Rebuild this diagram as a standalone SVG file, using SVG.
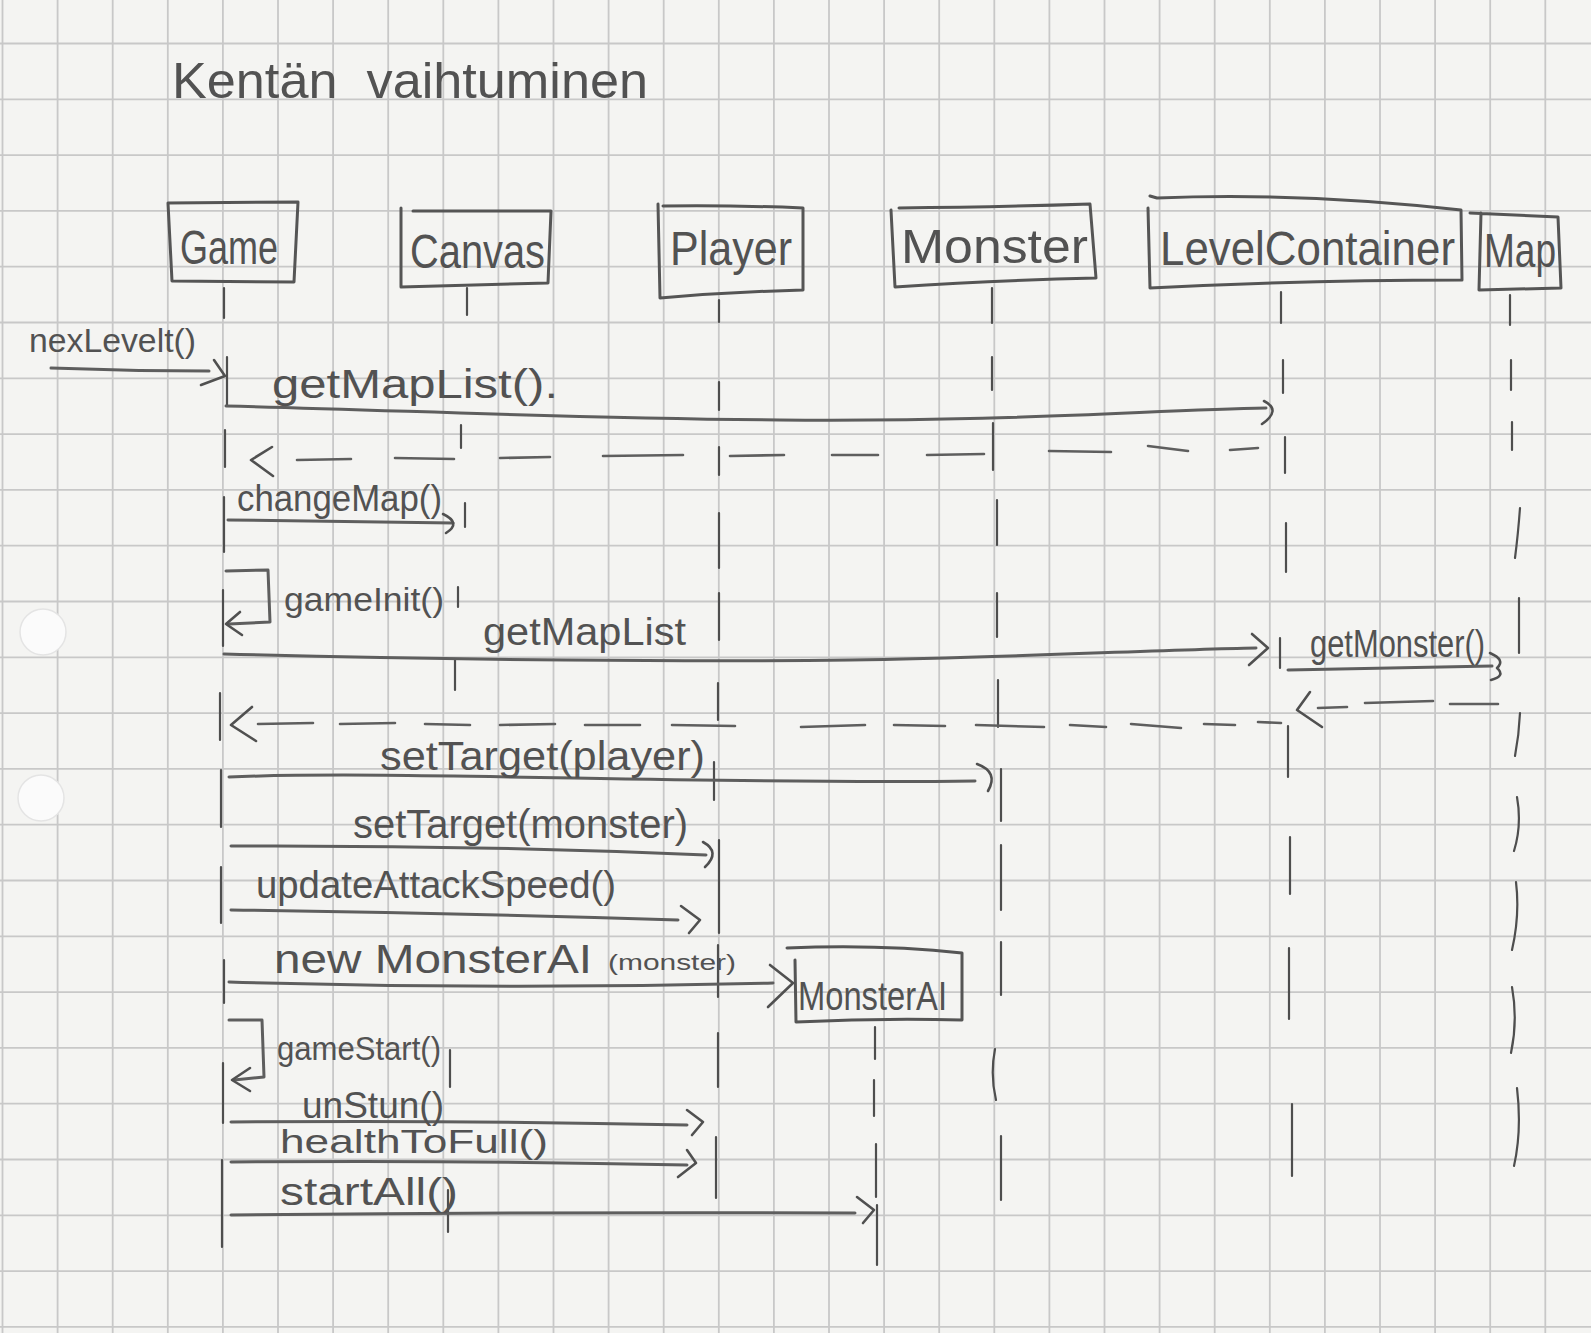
<svg xmlns="http://www.w3.org/2000/svg" width="1591" height="1333" viewBox="0 0 1591 1333">
  <style>
    .paper { fill: #f4f4f2; }
    .grid { stroke: #c8c8c8; stroke-width: 1.8; fill: none; }
    .hole { fill: #fbfbfb; stroke: #e4e4e4; stroke-width: 1.5; }
    .box { fill: none; stroke: #555; stroke-width: 3; stroke-linejoin: round; stroke-linecap: round; }
    .life { fill: none; stroke: #4e4e4e; stroke-width: 2.2; stroke-linecap: round; }
    .msg { fill: none; stroke: #5e5e5e; stroke-width: 3; stroke-linecap: round; stroke-linejoin: round; }
    .ret { fill: none; stroke: #5e5e5e; stroke-width: 2.6; stroke-linecap: round; }
    .head { fill: none; stroke: #505050; stroke-width: 2.6; stroke-linecap: round; stroke-linejoin: round; }
    .hand { font-family: "Liberation Sans", "DejaVu Sans", sans-serif; fill: #525252; }
  </style>

  <!-- squared paper -->
  <rect class="paper" x="0" y="0" width="1591" height="1333"/>
  <g id="grid" class="grid">
    <path d="M2.5 0V1333M57.6 0V1333M112.7 0V1333M167.8 0V1333M222.9 0V1333M278 0V1333M333.1 0V1333M388.2 0V1333M443.3 0V1333M498.4 0V1333M553.5 0V1333M608.6 0V1333M663.7 0V1333M718.8 0V1333M773.9 0V1333M829 0V1333M884.1 0V1333M939.2 0V1333M994.3 0V1333M1049.4 0V1333M1104.5 0V1333M1159.6 0V1333M1214.7 0V1333M1269.8 0V1333M1324.9 0V1333M1380 0V1333M1435.1 0V1333M1490.2 0V1333M1545.3 0V1333"/>
    <path d="M0 43.5H1591M0 99.3H1591M0 155.1H1591M0 210.9H1591M0 266.7H1591M0 322.5H1591M0 378.3H1591M0 434.1H1591M0 489.9H1591M0 545.7H1591M0 601.5H1591M0 657.3H1591M0 713.1H1591M0 768.9H1591M0 824.7H1591M0 880.5H1591M0 936.3H1591M0 992.1H1591M0 1047.9H1591M0 1103.7H1591M0 1159.5H1591M0 1215.3H1591M0 1271.1H1591M0 1326.9H1591"/>
  </g>
  <circle class="hole" cx="43" cy="632" r="23"/>
  <circle class="hole" cx="41" cy="798" r="23"/>

  <text class="hand" x="172" y="98" font-size="50" word-spacing="14" textLength="476" lengthAdjust="spacingAndGlyphs">Kentän vaihtuminen</text>

  <!-- participants: box + dashed lifeline -->
  <g id="game">
    <path class="box" d="M168 203 L298 202 L294 282 L172 281 Z"/>
    <text class="hand" x="180" y="264" font-size="48" textLength="98" lengthAdjust="spacingAndGlyphs">Game</text>
    <path class="life" d="M224 288V318M227 357V405M225 430V467M224 497V552M223 590V646M220 693V740M221 770V827M221 867V923M224 960V1003M223 1063V1123M222 1160V1247"/>
  </g>
  <g id="canvas">
    <path class="box" d="M401 208 L401 287 L548 283 L551 211 L413 211"/>
    <text class="hand" x="410" y="268" font-size="48" textLength="135" lengthAdjust="spacingAndGlyphs">Canvas</text>
    <path class="life" d="M467 288V315M461 425V448M465 503V527M458 587V607M455 660V690M450 1050V1087M448 1190V1232"/>
  </g>
  <g id="player">
    <path class="box" d="M658 204 L660 298 Q730 292 803 290 L803 208 Q730 205 663 206"/>
    <text class="hand" x="670" y="265" font-size="48" textLength="122" lengthAdjust="spacingAndGlyphs">Player</text>
    <path class="life" d="M719 300V322M719 382V410M719 447V475M719 513V568M719 593V640M718 683V720M714 762V800M719 840V933M718 945V997M718 1033V1087M716 1137V1198"/>
  </g>
  <g id="monster">
    <path class="box" d="M891 210 L895 287 Q1000 280 1096 278 L1090 204 Q1000 207 899 208"/>
    <text class="hand" x="901" y="263" font-size="48" textLength="187" lengthAdjust="spacingAndGlyphs">Monster</text>
    <path class="life" d="M992 288V323M992 357V390M993 423V470M997 500V545M997 593V637M998 680V727M1001 769V821M1001 845V910M1001 942V995M995 1049Q990 1075 996 1100M1001 1136V1200"/>
  </g>
  <g id="levelcontainer">
    <path class="box" d="M1148 208 L1150 288 Q1300 280 1462 280 L1461 210 Q1300 192 1157 198 L1150 196"/>
    <text class="hand" x="1160" y="265" font-size="48" textLength="295" lengthAdjust="spacingAndGlyphs">LevelContainer</text>
    <path class="life" d="M1281 292V323M1283 360V393M1285 437V473M1286 523V572M1280 638V668M1288 726V777M1290 837V894M1289 948V1019M1292 1104V1176"/>
  </g>
  <g id="map">
    <path class="box" d="M1470 213 L1558 217 L1561 288 L1479 290 L1481 213"/>
    <text class="hand" x="1484" y="267" font-size="48" textLength="72" lengthAdjust="spacingAndGlyphs">Map</text>
    <path class="life" d="M1510 295V325M1511 360V390M1512 422V450M1520 508Q1518 535 1515 558M1519 598V653M1520 713Q1519 735 1515 756M1517 797Q1522 825 1514 851M1516 882Q1520 915 1512 950M1512 987Q1518 1020 1511 1053M1517 1088Q1522 1130 1514 1166"/>
  </g>
  <g id="monsterai">
    <path class="box" d="M795 960 L796 1022 Q880 1018 962 1020 L962 953 Q880 944 787 948"/>
    <text class="hand" x="798" y="1010" font-size="40" textLength="149" lengthAdjust="spacingAndGlyphs">MonsterAI</text>
    <path class="life" d="M875 1027V1059M874 1080V1116M876 1144V1197M877 1205V1265"/>
  </g>

  <!-- messages -->
  <g id="connectors">
    <!-- nexLevelt() -->
    <path class="msg" d="M51 368 Q130 371 209 371"/>
    <path class="head" d="M214 360 L225 376 L201 385"/>
    <text class="hand" x="29" y="352" font-size="34" textLength="167" lengthAdjust="spacingAndGlyphs">nexLevelt()</text>

    <!-- getMapList(). -->
    <path class="msg" d="M226 406 C400 410 550 418 780 420 S1150 410 1266 408"/>
    <path class="head" d="M1264 401 Q1282 410 1262 424"/>
    <text class="hand" x="272" y="398" font-size="40" textLength="286" lengthAdjust="spacingAndGlyphs">getMapList().</text>

    <!-- return from LevelContainer -->
    <path class="ret" d="M297 460 L351 459 M395 458 L454 459 M500 458 L550 457 M603 456 L683 455 M730 456 L784 455 M832 455 L878 455 M927 455 L984 454 M1049 451 L1111 452 M1148 446 L1188 451 M1230 450 L1258 448"/>
    <path class="head" d="M272 447 L251 460 L273 476"/>

    <!-- changeMap() -->
    <path class="msg" d="M228 520 Q340 521 453 523"/>
    <path class="head" d="M443 514 Q462 523 446 533"/>
    <text class="hand" x="237" y="511" font-size="36" textLength="205" lengthAdjust="spacingAndGlyphs">changeMap()</text>

    <!-- gameInit() self call -->
    <path class="msg" d="M226 571 L268 570 L270 622 L229 624"/>
    <path class="head" d="M240 612 L226 624 L242 635"/>
    <text class="hand" x="284" y="611" font-size="34" textLength="160" lengthAdjust="spacingAndGlyphs">gameInit()</text>

    <!-- getMapList -->
    <path class="msg" d="M224 654 C450 660 700 662 850 660 S1150 650 1256 648"/>
    <path class="head" d="M1252 634 L1268 648 L1249 665"/>
    <text class="hand" x="483" y="645" font-size="38" textLength="203" lengthAdjust="spacingAndGlyphs">getMapList</text>

    <!-- getMonster() -->
    <path class="msg" d="M1288 670 Q1400 668 1492 666"/>
    <path class="head" d="M1490 653 Q1506 660 1497 668 Q1506 676 1491 680"/>
    <text class="hand" x="1310" y="657" font-size="38" textLength="175" lengthAdjust="spacingAndGlyphs">getMonster()</text>

    <!-- return from Map -->
    <path class="ret" d="M1318 708 L1347 707 M1365 703 L1433 701 M1450 704 L1498 704"/>
    <path class="head" d="M1310 692 L1297 710 L1322 727"/>

    <!-- return to Game -->
    <path class="ret" d="M258 724 L313 723 M340 724 L395 723 M425 724 L470 725 M500 725 L555 724 M585 725 L640 725 M672 725 L735 726 M801 727 L865 725 M894 725 L945 726 M976 725 L1044 727 M1070 725 L1106 727 M1131 724 L1181 728 M1204 724 L1235 725 M1258 722 L1281 723"/>
    <path class="head" d="M252 707 L231 725 L256 741"/>

    <!-- setTarget(player) -->
    <path class="msg" d="M229 777 C400 770 700 785 975 781"/>
    <path class="head" d="M977 764 Q999 772 988 791"/>
    <text class="hand" x="380" y="770" font-size="40" textLength="325" lengthAdjust="spacingAndGlyphs">setTarget(player)</text>

    <!-- setTarget(monster) -->
    <path class="msg" d="M231 846 Q470 845 706 855"/>
    <path class="head" d="M703 842 Q721 852 705 867"/>
    <text class="hand" x="353" y="838" font-size="40" textLength="335" lengthAdjust="spacingAndGlyphs">setTarget(monster)</text>

    <!-- updateAttackSpeed() -->
    <path class="msg" d="M231 910 Q450 913 678 920"/>
    <path class="head" d="M681 906 L700 920 L689 933"/>
    <text class="hand" x="256" y="898" font-size="38" textLength="360" lengthAdjust="spacingAndGlyphs">updateAttackSpeed()</text>

    <!-- new MonsterAI (monster) -->
    <path class="msg" d="M229 982 Q500 990 773 983"/>
    <path class="head" d="M770 965 L793 983 L768 1007"/>
    <text class="hand" x="274" y="973" font-size="40" textLength="318" lengthAdjust="spacingAndGlyphs">new MonsterAI</text>
    <text class="hand" x="608" y="970" font-size="22" textLength="128" lengthAdjust="spacingAndGlyphs">(monster)</text>

    <!-- gameStart() self call -->
    <path class="msg" d="M229 1020 L262 1020 L264 1077 L234 1080"/>
    <path class="head" d="M250 1068 L232 1080 L250 1091"/>
    <text class="hand" x="277" y="1060" font-size="34" textLength="164" lengthAdjust="spacingAndGlyphs">gameStart()</text>

    <!-- unStun() -->
    <path class="msg" d="M231 1122 Q460 1120 687 1125"/>
    <path class="head" d="M687 1110 L703 1122 L692 1135"/>
    <text class="hand" x="302" y="1118" font-size="36" textLength="142" lengthAdjust="spacingAndGlyphs">unStun()</text>

    <!-- healthToFull() -->
    <path class="msg" d="M231 1162 Q460 1160 687 1165"/>
    <path class="head" d="M687 1150 L696 1163 L678 1177"/>
    <text class="hand" x="280" y="1153" font-size="34" textLength="268" lengthAdjust="spacingAndGlyphs">healthToFull()</text>

    <!-- startAll() -->
    <path class="msg" d="M231 1215 Q540 1212 855 1213"/>
    <path class="head" d="M857 1197 L874 1210 L863 1223"/>
    <text class="hand" x="280" y="1205" font-size="38" textLength="178" lengthAdjust="spacingAndGlyphs">startAll()</text>
  </g>
</svg>
